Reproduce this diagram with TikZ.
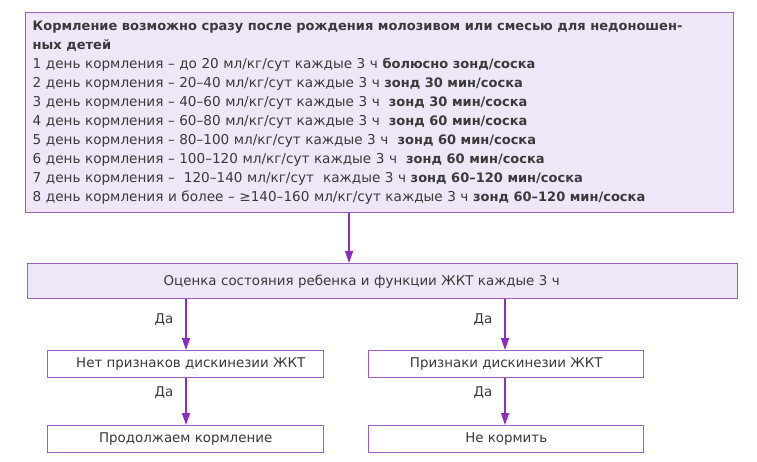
\documentclass[tikz,border=0pt]{standalone}
\usepackage{fontspec}
\setmainfont{DejaVu Sans}
\usetikzlibrary{arrows.meta}
\definecolor{boxline}{HTML}{9A62BE}
\definecolor{arrowc}{HTML}{8A2FC4}
\definecolor{lav}{HTML}{EFE6F7}
\definecolor{txt}{HTML}{3A3A3A}
\newcommand\bt[1]{{\fontsize{13}{19.1}\selectfont\bfseries #1}}
\tikzset{
  flowbox/.style={draw=boxline, line width=1.4pt, rectangle, inner sep=0pt, text=txt, font=\fontsize{13.4}{15}\selectfont},
  flowarrow/.style={draw=arrowc, line width=1.4pt, -{Triangle[width=8pt,length=12pt]}},
  yeslabel/.style={text=txt, font=\fontsize{13.4}{15}\selectfont}
}
\begin{document}
\begin{tikzpicture}[x=1pt,y=-1pt]
\useasboundingbox[fill=white] (0,0) rectangle (757,461);
% top box
\node[flowbox, fill=lav, anchor=north west, minimum width=708pt, minimum height=200pt, text width=694pt, align=left,
  font=\fontsize{13.6}{19.1}\selectfont] (top) at (25,12)
{\bt{Кормление возможно сразу после рождения молозивом или смесью для недоношен-}\\
\bt{ных детей}\\
1 день кормления – до 20 мл/кг/сут каждые 3 ч \bt{болюсно зонд/соска}\\
2 день кормления – 20–40 мл/кг/сут каждые 3 ч \bt{зонд 30 мин/соска}\\
3 день кормления – 40–60 мл/кг/сут каждые 3 ч \ \bt{зонд 30 мин/соска}\\
4 день кормления – 60–80 мл/кг/сут каждые 3 ч \ \bt{зонд 60 мин/соска}\\
5 день кормления – 80–100 мл/кг/сут каждые 3 ч \ \bt{зонд 60 мин/соска}\\
6 день кормления – 100–120 мл/кг/сут каждые 3 ч \ \bt{зонд 60 мин/соска}\\
7 день кормления – \ 120–140 мл/кг/сут \ каждые 3 ч \bt{зонд 60–120 мин/соска}\\
8 день кормления и более – ≥140–160 мл/кг/сут каждые 3 ч \bt{зонд 60–120 мин/соска}};
% evaluation box
\node[flowbox, fill=lav, anchor=north west, minimum width=710pt, minimum height=35pt, text width=710pt, align=left] (eval) at (27,263)
{\hspace*{136pt}Оценка состояния ребенка и функции ЖКТ каждые 3 ч};
% lower boxes
\node[flowbox, fill=white, anchor=north west, minimum width=276pt, minimum height=27pt] (nosign) at (47,350) {\hspace*{10pt}Нет признаков дискинезии ЖКТ};
\node[flowbox, fill=white, anchor=north west, minimum width=275pt, minimum height=27pt] (sign) at (368,350) {Признаки дискинезии ЖКТ};
\node[flowbox, fill=white, anchor=north west, minimum width=276pt, minimum height=27pt] (cont) at (47,425) {Продолжаем кормление};
\node[flowbox, fill=white, anchor=north west, minimum width=275pt, minimum height=27pt] (nofeed) at (368,425) {Не кормить};
% arrows
\draw[flowarrow] (top.south -| 349,0) -- (eval.north -| 349,0);
\draw[flowarrow] (eval.south -| 186,0) -- (nosign.north -| 186,0);
\draw[flowarrow] (eval.south -| 505,0) -- (sign.north -| 505,0);
\draw[flowarrow] (nosign.south -| 186,0) -- (cont.north -| 186,0);
\draw[flowarrow] (sign.south -| 505,0) -- (nofeed.north -| 505,0);
% labels
\node[yeslabel] (da1) at (164,320) {Да};
\node[yeslabel] (da2) at (483,320) {Да};
\node[yeslabel] (da3) at (164,393) {Да};
\node[yeslabel] (da4) at (483,393) {Да};
\end{tikzpicture}
\end{document}
